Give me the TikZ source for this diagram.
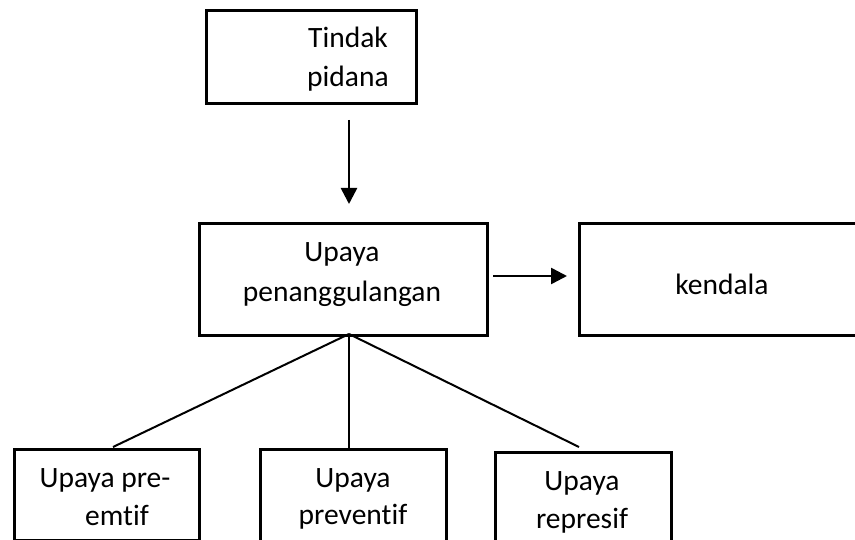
\documentclass[tikz,border=0pt]{standalone}
\usepackage{fontspec}
\setmainfont{Carlito}[Ligatures={NoCommon}]
\usetikzlibrary{arrows.meta}
\begin{document}
\begin{tikzpicture}[x=1pt,y=-1pt,
  box/.style={draw,line width=2.6pt,minimum width=#1,inner sep=0pt,anchor=north west},
  lbl/.style={anchor=base,inner sep=0pt,font=\fontsize{29.5pt}{34pt}\selectfont},
  conn/.style={line width=2pt},
  arr/.style={line width=2.6pt,-{Triangle[width=16pt,length=16pt]}}]
\useasboundingbox (0,0) rectangle (855,540);
\clip (0,0) rectangle (855,540);
% boxes
\node[box=210pt,minimum height=93pt] (tp) at (205,9) {};
\node[box=288pt,minimum height=112pt] (up) at (198,222) {};
\node[box=360pt,minimum height=112pt] (kd) at (578,222) {};
\node[box=185pt,minimum height=91pt] (pe) at (13,448) {};
\node[box=186pt,minimum height=130pt] (pv) at (259,448) {};
\node[box=176pt,minimum height=130pt] (rp) at (494,451) {};
% texts
\node[lbl] (t1) at (348,48) {Tindak};
\node[lbl] (t2) at (348,87) {pidana};
\node[lbl] (u1) at (342,262) {Upaya};
\node[lbl] (u2) at (342,302) {penanggulangan};
\node[lbl] (k1) at (722,295) {kendala};
\node[lbl] (p1) at (105,487) {Upaya pre-};
\node[lbl] (p2) at (117,525) {emtif};
\node[lbl] (v1) at (353,487) {Upaya};
\node[lbl] (v2) at (353,524) {preventif};
\node[lbl] (r1) at (582,490) {Upaya};
\node[lbl] (r2) at (582,528) {represif};
% connector points
\coordinate (a1s) at (349,120);
\coordinate (a1e) at (349,204);
\coordinate (a2s) at (493,276);
\coordinate (a2e) at (567,276);
\coordinate (hub) at (349,334);
\coordinate (peN) at (113,447);
\coordinate (pvN) at (349,448);
\coordinate (rpN) at (579,447);
% connectors
\draw[arr] (a1s) -- (a1e);
\draw[arr] (a2s) -- (a2e);
\draw[conn] (hub) -- (peN);
\draw[conn] (hub) -- (pvN);
\draw[conn] (hub) -- (rpN);
\end{tikzpicture}
\end{document}
